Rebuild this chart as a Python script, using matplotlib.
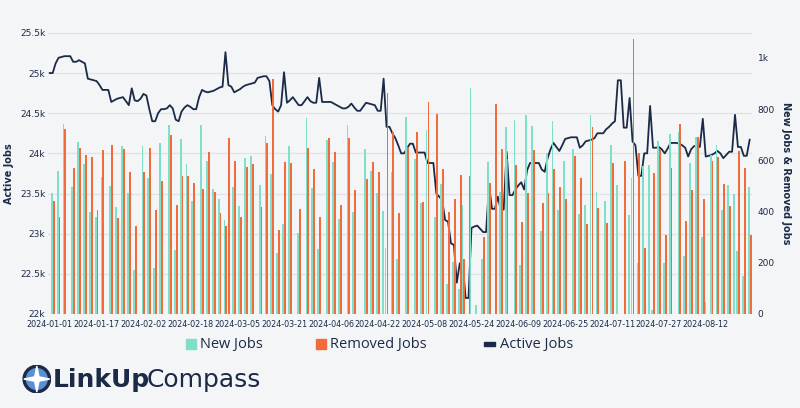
import numpy as np
import pandas as pd
import matplotlib.pyplot as plt
from matplotlib.patches import Circle, Polygon

start = pd.Timestamp("2024-01-01")

# daily active jobs, 2024-01-01 .. 2024-08-27
active = [
    25.0, 25.0, 25.12, 25.19, 25.2, 25.21, 25.21, 25.21, 25.14, 25.14, 25.16, 25.14, 25.12, 24.93, 24.92, 24.91,
    24.9, 24.85, 24.79, 24.79, 24.79, 24.64, 24.66, 24.68, 24.69, 24.7, 24.65, 24.6, 24.81, 24.66, 24.65, 24.68,
    24.74, 24.72, 24.55, 24.4, 24.4, 24.5, 24.55, 24.55, 24.56, 24.6, 24.56, 24.42, 24.4, 24.52, 24.57, 24.6,
    24.58, 24.55, 24.55, 24.7, 24.79, 24.77, 24.76, 24.77, 24.78, 24.8, 24.82, 24.83, 25.26, 24.85, 24.83, 24.76,
    24.78, 24.8, 24.83, 24.85, 24.86, 24.87, 24.88, 24.94, 24.95, 24.96, 24.96, 24.9, 24.6, 24.55, 24.52, 24.6,
    25.01, 24.63, 24.66, 24.7, 24.65, 24.6, 24.6, 24.65, 24.7, 24.65, 24.63, 24.63, 24.94, 24.64, 24.64, 24.64,
    24.64, 24.62, 24.6, 24.58, 24.56, 24.56, 24.58, 24.62, 24.57, 24.53, 24.53, 24.58, 24.63, 24.62, 24.61, 24.6,
    24.53, 24.53, 24.93, 24.33, 24.33, 24.25, 24.19, 24.1, 24.0, 24.0, 24.06, 24.12, 24.12, 24.01, 24.01, 24.01,
    24.01, 23.88, 23.88, 23.88, 23.5, 23.46, 23.42, 23.17, 23.15, 22.88, 22.86, 22.39, 22.63, 22.63, 22.2, 22.2,
    23.07, 23.09, 23.1, 23.06, 23.02, 23.02, 23.61, 23.31, 23.31, 23.46, 23.3, 23.3, 24.02, 23.48, 23.48, 23.55,
    23.6, 23.64, 23.55, 23.79, 23.88, 23.88, 23.88, 23.88, 23.8, 23.77, 23.94, 24.05, 24.13, 24.08, 24.03, 24.1,
    24.18, 24.19, 24.2, 24.2, 24.2, 24.07, 24.1, 24.15, 24.16, 24.17, 24.19, 24.25, 24.25, 24.25, 24.3, 24.33,
    24.37, 24.4, 24.91, 24.91, 24.32, 24.32, 24.69, 24.15, 24.1, 23.72, 23.72, 24.0, 24.0, 24.59, 24.07, 24.07,
    24.08, 24.05, 24.0, 24.06, 24.13, 24.13, 24.13, 24.12, 24.1, 24.07, 23.96, 24.05, 24.09, 24.09, 24.08, 24.43,
    23.96, 23.97, 23.98, 24.0, 24.03, 24.0, 23.94, 23.98, 24.02, 24.02, 24.48, 24.08, 24.08, 23.97, 23.97, 24.17,
]

# days (offset from 2024-01-01) that carry new / removed job bars
bar_days = [
    1, 3, 5, 8, 10, 12, 14, 16, 18, 21, 23, 25, 27, 29, 32, 34, 36, 38, 41, 43,
    45, 47, 49, 52, 54, 56, 58, 60, 61, 63, 65, 67, 69, 72, 74, 76, 78, 80, 82, 85,
    88, 90, 92, 95, 97, 99, 102, 104, 108, 110, 112, 114, 115, 117, 119, 122, 125, 127, 129, 132,
    134, 136, 138, 140, 141, 143, 144, 146, 148, 150, 152, 154, 156, 159, 161, 163, 165, 168, 170, 172,
    174, 176, 179, 181, 183, 185, 187, 190, 192, 194, 196, 198, 199, 201, 203, 205, 206, 208, 210, 212,
    215, 217, 219, 221, 223, 224, 226, 228, 230, 232, 234, 235, 237, 239,
]
new_jobs = [
    471, 560, 742, 497, 673, 584, 399, 380, 536, 500, 419, 656, 471, 172, 656, 530, 181, 669, 738, 250,
    683, 584, 441, 740, 599, 490, 451, 367, 0, 497, 422, 610, 617, 504, 695, 545, 237, 350, 656, 315,
    764, 494, 252, 679, 595, 371, 740, 397, 644, 558, 474, 402, 259, 556, 214, 770, 604, 432, 718, 380,
    506, 119, 204, 96, 425, 0, 881, 37, 213, 592, 0, 477, 731, 757, 191, 777, 734, 324, 627, 753,
    406, 597, 644, 389, 426, 777, 477, 441, 660, 504, 0, 386, 530, 198, 578, 582, 16, 677, 200, 705,
    712, 226, 588, 692, 302, 48, 621, 660, 406, 504, 467, 246, 150, 497,
]
removed_jobs = [
    441, 380, 722, 569, 649, 621, 612, 406, 640, 660, 376, 643, 556, 343, 553, 647, 406, 519, 699, 426,
    539, 540, 510, 490, 631, 478, 393, 343, 686, 597, 377, 575, 586, 416, 669, 916, 330, 595, 591, 410,
    647, 566, 380, 686, 631, 424, 688, 484, 526, 595, 553, 0, 864, 712, 393, 653, 709, 436, 829, 781,
    566, 399, 449, 543, 215, 540, 0, 0, 302, 510, 819, 644, 604, 582, 360, 471, 640, 435, 471, 566,
    497, 451, 617, 532, 350, 731, 415, 356, 591, 0, 597, 0, 1076, 627, 259, 0, 552, 644, 308, 569,
    742, 363, 484, 692, 451, 0, 597, 612, 506, 422, 0, 636, 571, 308,
]

tick_days = list(range(0, 225, 16))
tick_labels = [(start + pd.Timedelta(days=d)).strftime("%Y-%m-%d") for d in tick_days]

bg = "#f4f5f7"
navy = "#1b2a47"
teal = "#7fdfc9"
orange = "#f26b3a"

fig = plt.figure(figsize=(8, 4.08), dpi=100, facecolor=bg)
ax2 = fig.add_axes([0.06, 0.2304, 0.88, 0.689])
ax2.set_facecolor(bg)
ax = ax2.twinx()

days = np.arange(len(active))
bd = np.array(bar_days)

# bars on ax2 (right axis), line on ax (left axis)
ax2.bar(bd - 0.32, new_jobs, width=0.62, color=teal, zorder=2, lw=0)
ax2.bar(bd + 0.32, removed_jobs, width=0.62, color=orange, zorder=2, lw=0)
ax2.set_ylim(0, 1098)
ax2.yaxis.tick_right()
ax2.yaxis.set_label_position("right")
ax2.set_yticks([0, 200, 400, 600, 800, 1000])
ax2.set_yticklabels(["0", "200", "400", "600", "800", "1k"])
ax2.set_ylabel("New Jobs & Removed Jobs", rotation=270, labelpad=12,
               fontsize=7, fontweight="bold", color=navy)

ax.plot(days, np.array(active) * 1000, color=navy, lw=1.3, zorder=3)
ax.set_ylim(22000, 25500)
ax.yaxis.tick_left()
ax.yaxis.set_label_position("left")
ax.set_yticks(np.arange(22000, 25501, 500))
ax.set_yticklabels(["22k", "22.5k", "23k", "23.5k", "24k", "24.5k", "25k", "25.5k"])
ax.set_ylabel("Active Jobs", fontsize=7, fontweight="bold", color=navy, labelpad=4)
ax.grid(axis="y", color="#dfe2e7", lw=0.9)
ax.set_axisbelow(True)
ax2.set_zorder(ax.get_zorder() + 1)
ax2.patch.set_visible(False)
ax.set_facecolor(bg)

ax2.set_xlim(-0.6, 239.8)
ax2.set_xticks(tick_days)
ax2.set_xticklabels(tick_labels)
for a in (ax, ax2):
    a.tick_params(length=0, labelsize=6.5, colors=navy, pad=2)
    for s in a.spines.values():
        s.set_visible(False)
ax2.tick_params(axis="x", labelsize=5.8, pad=4)
ax2.tick_params(axis="y", pad=4)

# legend
items = [("New Jobs", teal, 0.25), ("Removed Jobs", orange, 0.413), ("Active Jobs", navy, 0.625)]
for label, col, xp in items:
    if label == "Active Jobs":
        fig.patches.append(plt.Rectangle((xp - 0.02, 0.153), 0.014, 0.008, color=col,
                                         transform=fig.transFigure, figure=fig))
    else:
        fig.patches.append(plt.Rectangle((xp - 0.018, 0.144), 0.013, 0.026, color=col,
                                         transform=fig.transFigure, figure=fig))
    fig.text(xp, 0.156, label, fontsize=10.5, color=navy,
             va="center", fontweight="medium", fontfamily="Open Sans")

# logo
logo = fig.add_axes([0.028, 0.035, 0.036, 0.072])
logo.set_xlim(-1, 1)
logo.set_ylim(-1, 1)
logo.set_aspect("equal")
logo.axis("off")
logo.add_patch(Circle((0, 0), 0.95, color=navy))
logo.add_patch(Circle((0, 0), 0.72, color="#5a8fd6"))
logo.add_patch(Polygon([(0, 0.9), (0.18, 0), (0, -0.9), (-0.18, 0)], color="white"))
logo.add_patch(Polygon([(0.9, 0), (0, 0.18), (-0.9, 0), (0, -0.18)], color="white"))
fig.text(0.066, 0.068, "LinkUp", fontsize=18, fontweight="bold", color=navy, va="center")
fig.text(0.183, 0.068, "Compass", fontsize=18, color=navy, va="center")

fig.savefig("out.png", dpi=100, facecolor=bg)
